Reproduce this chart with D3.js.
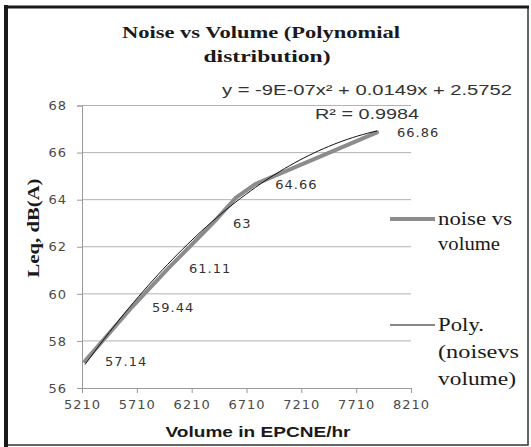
<!DOCTYPE html>
<html><head><meta charset="utf-8">
<script src="https://cdn.jsdelivr.net/npm/d3@7"></script>
<style>body{margin:0;background:#fff}svg{display:block}</style>
</head><body>
<script>
// ---- data ----
const volumes = [5237, 5666, 6003, 6404, 6614, 6790, 7900];
const noise = [57.14, 59.44, 61.11, 63, 64.09, 64.66, 66.86];
const dataLabels = ["57.14", "59.44", "61.11", "63", "", "64.66", "66.86"];
const xTicks = [5210, 5710, 6210, 6710, 7210, 7710, 8210];
const yTicks = [56, 58, 60, 62, 64, 66, 68];
const titleLines = ["Noise vs Volume (Polynomial", "distribution)"];
const equationText = "y = -9E-07x² + 0.0149x + 2.5752";
const r2Text = "R² = 0.9984";
const legendSeries = ["noise vs", "volume"];
const legendTrend = ["Poly.", "(noisevs", "volume)"];

const W = 531, H = 447;
const svg = d3.select("body").append("svg").attr("width", W).attr("height", H);

// frame
svg.append("rect").attr("x", 0).attr("y", 0).attr("width", W).attr("height", H).attr("fill", "#fff");
svg.append("rect").attr("x", 6).attr("y", 7).attr("width", 522).attr("height", 438)
  .attr("fill", "none").attr("stroke", "#333").attr("stroke-width", 1.5);
svg.append("line").attr("x1", 6).attr("x2", 6).attr("y1", 5).attr("y2", 447).attr("stroke", "#1a1a1a").attr("stroke-width", 4);
svg.append("line").attr("x1", 4).attr("x2", 529).attr("y1", 7).attr("y2", 7).attr("stroke", "#1a1a1a").attr("stroke-width", 3);

const x = d3.scaleLinear().domain([5210, 8210]).range([82, 411]);
const y = d3.scaleLinear().domain([56, 68]).range([388, 105.5]);

// gridlines
svg.append("g").selectAll("line").data(yTicks.slice(1)).join("line")
  .attr("x1", 82).attr("x2", 411).attr("y1", d => y(d)).attr("y2", d => y(d))
  .attr("stroke", "#b3b3b3").attr("stroke-width", 1);

// axes
const tickFont = "'DejaVu Sans', sans-serif";
const yAxis = svg.append("g").attr("transform", "translate(82,0)")
  .call(d3.axisLeft(y).tickValues(yTicks).tickSize(5).tickPadding(10).tickFormat(d3.format("d")));
const xAxis = svg.append("g").attr("transform", "translate(0,388)")
  .call(d3.axisBottom(x).tickValues(xTicks).tickSize(5).tickPadding(7).tickFormat(d3.format("d")));
[yAxis, xAxis].forEach(g => {
  g.select(".domain").attr("stroke", "#9a9a9a");
  g.selectAll(".tick line").attr("stroke", "#9a9a9a");
  g.selectAll(".tick text").attr("fill", "#4a4a4a").attr("font-family", tickFont)
    .attr("font-size", 13).attr("letter-spacing", 1);
});

// data series line
const pts = volumes.map((v, i) => [v, noise[i]]);
svg.append("path").datum(pts)
  .attr("d", d3.line().x(d => x(d[0])).y(d => y(d[1])))
  .attr("fill", "none").attr("stroke", "#8c8c8c").attr("stroke-width", 4)
  .attr("stroke-linejoin", "round").attr("stroke-linecap", "round");

// polynomial (order 2) trendline fitted to the series
function polyfit2(xs, ys) {
  const mx = d3.mean(xs);
  const u = xs.map(v => (v - mx) / 1000);
  let S = [[0,0,0],[0,0,0],[0,0,0]], B = [0,0,0];
  u.forEach((t, i) => {
    const p = [1, t, t*t];
    for (let a = 0; a < 3; a++) { B[a] += p[a]*ys[i]; for (let b = 0; b < 3; b++) S[a][b] += p[a]*p[b]; }
  });
  const M = S.map((r, i) => [...r, B[i]]);
  for (let c = 0; c < 3; c++) {
    let piv = c; for (let r = c+1; r < 3; r++) if (Math.abs(M[r][c]) > Math.abs(M[piv][c])) piv = r;
    [M[c], M[piv]] = [M[piv], M[c]];
    for (let r = 0; r < 3; r++) if (r !== c) { const f = M[r][c]/M[c][c]; for (let k = c; k < 4; k++) M[r][k] -= f*M[c][k]; }
  }
  const co = M.map((r, i) => r[3]/r[i]);
  return v => { const t = (v - mx)/1000; return co[0] + co[1]*t + co[2]*t*t; };
}
const fit = polyfit2(volumes, noise);
const [x0, x1] = d3.extent(volumes);
const trendPts = d3.range(0, 61).map(i => { const v = x0 + (x1 - x0)*i/60; return [v, fit(v)]; });
svg.append("path").datum(trendPts)
  .attr("d", d3.line().x(d => x(d[0])).y(d => y(d[1])))
  .attr("fill", "none").attr("stroke", "#111").attr("stroke-width", 1);

// data labels
svg.append("g").selectAll("text").data(pts.filter((d, i) => dataLabels[i]))
  .join("text")
  .attr("x", d => x(d[0]) + 20).attr("y", d => y(d[1]) + 5)
  .attr("font-family", tickFont).attr("font-size", 13).attr("letter-spacing", 1)
  .attr("fill", "#333").text(d => dataLabels[pts.indexOf(d)]);

// title
const serif = "'Liberation Serif', 'Times New Roman', serif";
svg.append("text").attr("x", 261).attr("y", 38).attr("text-anchor", "middle")
  .attr("font-family", serif).attr("font-weight", "bold").attr("font-size", 17)
  .attr("textLength", 278).attr("lengthAdjust", "spacingAndGlyphs").attr("fill", "#1a1a1a").text(titleLines[0]);
svg.append("text").attr("x", 267).attr("y", 62).attr("text-anchor", "middle")
  .attr("font-family", serif).attr("font-weight", "bold").attr("font-size", 17)
  .attr("textLength", 127).attr("lengthAdjust", "spacingAndGlyphs").attr("fill", "#1a1a1a").text(titleLines[1]);

// equation
const sans = "'Liberation Sans', Arial, sans-serif";
svg.append("text").attr("x", 367).attr("y", 95).attr("text-anchor", "middle")
  .attr("font-family", sans).attr("font-size", 15).attr("fill", "#333")
  .attr("textLength", 290).attr("lengthAdjust", "spacingAndGlyphs").text(equationText);
svg.append("text").attr("x", 367).attr("y", 119).attr("text-anchor", "middle")
  .attr("font-family", sans).attr("font-size", 15).attr("fill", "#333")
  .attr("textLength", 104).attr("lengthAdjust", "spacingAndGlyphs").text(r2Text);

// axis titles
svg.append("text").attr("transform", "translate(39,228) rotate(-90)").attr("text-anchor", "middle")
  .attr("font-family", serif).attr("font-weight", "bold").attr("font-size", 17)
  .attr("textLength", 99).attr("lengthAdjust", "spacingAndGlyphs").attr("fill", "#1a1a1a").text("Leq, dB(A)");
svg.append("text").attr("x", 258).attr("y", 437).attr("text-anchor", "middle")
  .attr("font-family", sans).attr("font-weight", "bold").attr("font-size", 15)
  .attr("textLength", 185).attr("lengthAdjust", "spacingAndGlyphs").attr("fill", "#1a1a1a").text("Volume in EPCNE/hr");

// legend
const lg = svg.append("g");
lg.append("line").attr("x1", 390).attr("x2", 435).attr("y1", 219).attr("y2", 219)
  .attr("stroke", "#8c8c8c").attr("stroke-width", 4);
const lw1 = [74, 62];
legendSeries.forEach((t, i) => lg.append("text").attr("x", 438).attr("y", 225 + i*25)
  .attr("font-family", serif).attr("font-size", 19).attr("fill", "#1a1a1a")
  .attr("textLength", lw1[i]).attr("lengthAdjust", "spacingAndGlyphs").text(t));
lg.append("line").attr("x1", 390).attr("x2", 435).attr("y1", 325).attr("y2", 325)
  .attr("stroke", "#111").attr("stroke-width", 1);
const lw2 = [46, 81, 78];
legendTrend.forEach((t, i) => lg.append("text").attr("x", 438).attr("y", 331 + i*27)
  .attr("font-family", serif).attr("font-size", 19).attr("fill", "#1a1a1a")
  .attr("textLength", lw2[i]).attr("lengthAdjust", "spacingAndGlyphs").text(t));
</script>
</body></html>
